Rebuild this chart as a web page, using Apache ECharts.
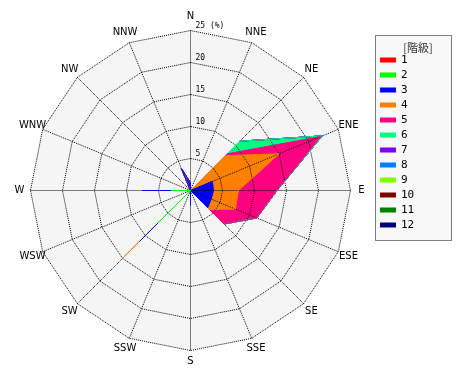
<!DOCTYPE html>
<html><head><meta charset="utf-8">
<script src="https://cdn.jsdelivr.net/npm/echarts@6/dist/echarts.min.js"></script>
<style>html,body{margin:0;padding:0;background:#fff}#c{width:470px;height:380px}</style>
</head><body><div id="c"></div>
<script>
// Directions, clockwise from North
const directions = ['N','NNE','NE','ENE','E','ESE','SE','SSE','S','SSW','SW','WSW','W','WNW','NW','NNW'];
const classNames = ['1','2','3','4','5','6','7','8','9','10','11','12'];
const classColors = ['#ff0000','#00ff00','#0000ff','#ff8000','#ff0080','#00ff80','#8000ff','#0080ff','#80ff00','#800000','#008000','#000080'];
// Frequency (%) per class, by direction (same order as directions)
const class1  = [0,0,0,0,0,0,0,0,0,0,0,0,0,0,0,0];
const class2  = [0,0,0,0,0,0,0,0,0,0,7.2,0,3.0,0,0,0];
const class3  = [1.2,0,0,3.7,3.6,3.5,3.8,0,2.3,0,4.0,0,4.5,0,0,3.7];
const class4  = [0,0,7.7,11.3,3.9,4.1,0.4,0,0,0,3.5,0,0,0,0,0];
const class5  = [0,0,0.4,7.0,6.0,3.6,3.2,0,0,0,0,0,0,0,0,0];
const class6  = [0,0,2.8,0.3,0,0,0,0,0,0,0,0,0,0,0,0];
const class7  = [0,0,0,0,0,0,0,0,0,0,0,0,0,0,0,0];
const class8  = [0,0,0,0,0,0,0,0,0,0,0,0,0,0,0,0];
const class9  = [0,0,0,0,0,0,0,0,0,0,0,0,0,0,0,0];
const class10 = [0,0,0,0,0,0,0,0,0,0,0,0,0,0,0,0];
const class11 = [0,0,0,0,0,0,0,0,0,0,0,0,0,0,0,0];
const class12 = [0,0,0,0,0,0,0,0,0,0,0,0,0,0,0,0];
const radiusMax = 25;
const unitLabel = '(%)';
const legendTitle = '[階級]';

const classes = [class1,class2,class3,class4,class5,class6,class7,class8,class9,class10,class11,class12];
// cumulative (stacked) values
const cumulative = [];
classes.forEach((arr, k) => {
  cumulative.push(arr.map((v, d) => v + (k > 0 ? cumulative[k-1][d] : 0)));
});
// radar goes counter-clockwise: reorder N, NNW, NW, ...
const order = [0].concat(directions.slice(1).map((_, i) => directions.length - 1 - i));
const reorder = arr => order.map(i => arr[i]);

const dotted = {color:'#000', width:1, type:'dotted'};
const indicatorBase = order.map(i => ({name: directions[i], max: radiusMax, min: 0}));
const indicatorTop = indicatorBase.map((ind, j) => j === 0 ? Object.assign({}, ind, {
  axisLabel: {show: true, fontSize: 8, fontFamily: 'DejaVu Sans Mono', color: '#000', margin: 2,
    align: 'left', verticalAlign: 'bottom', padding: [0,0,1,7],
    formatter: v => v === 0 ? '' : (v === radiusMax ? v + ' ' + unitLabel : String(v))}
}) : ind);

const series = [];
// filled areas (below grid), outer classes first so inner classes sit on top
for (let k = classes.length - 1; k >= 0; k--) {
  series.push({
    type: 'radar', radarIndex: 0, name: classNames[k], symbol: 'none', silent: true, z: 2,
    itemStyle: {color: classColors[k]},
    lineStyle: {width: 0, opacity: 0},
    areaStyle: {color: classColors[k], opacity: 1},
    data: [{value: reorder(cumulative[k]), name: classNames[k]}]
  });
}
// outlines (above grid)
for (let k = classes.length - 1; k >= 0; k--) {
  series.push({
    type: 'radar', radarIndex: 0, name: classNames[k], symbol: 'none', silent: true, z: 20,
    itemStyle: {color: classColors[k]},
    lineStyle: {color: classColors[k], width: 1},
    data: [{value: reorder(cumulative[k]), name: classNames[k]}]
  });
}

const chart = echarts.init(document.getElementById('c'));
chart.setOption({
  animation: false,
  backgroundColor: '#fff',
  title: {text: legendTitle, left: 413, top: 37, textAlign: 'center',
    textStyle: {fontSize: 11, fontWeight: 'normal', color: '#333', fontFamily: 'Noto Sans CJK JP'}},
  graphic: [{type: 'rect', left: 375, top: 35, z: -1,
    shape: {width: 76, height: 205}, style: {fill: '#f8f8f8', stroke: '#000', lineWidth: 1, lineDash: [1,1]}}],
  legend: {
    orient: 'vertical', left: 380, top: 54, padding: 0, itemGap: 3,
    itemWidth: 16, itemHeight: 5, icon: 'rect',
    data: classNames,
    textStyle: {fontSize: 11, lineHeight: 12, color: '#000', fontFamily: 'DejaVu Sans Mono'}
  },
  // radial direction lines (dotted)
  polar: {center: [190.5,190.5], radius: [0,160], z: 10},
  angleAxis: {type: 'category', data: directions, boundaryGap: false, startAngle: 90, clockwise: true, z: 10,
    axisLine: {show: false}, axisTick: {show: false}, axisLabel: {show: false},
    splitLine: {show: true, lineStyle: dotted}},
  radiusAxis: {min: 0, max: radiusMax, show: false},
  radar: [
    {center: [190.5,190.5], radius: 160, shape: 'polygon', splitNumber: 5, z: 0,
     indicator: indicatorBase,
     axisName: {show: false},
     splitArea: {show: true, areaStyle: {color: ['#f5f5f5']}},
     splitLine: {show: false}, axisLine: {show: false}, axisLabel: {show: false}},
    {center: [190.5,190.5], radius: 160, shape: 'polygon', splitNumber: 5, z: 10, nameGap: 11,
     indicator: indicatorTop,
     axisName: {show: true, color: '#000', fontSize: 10, fontFamily: 'DejaVu Sans', align: 'center', verticalAlign: 'middle', padding: [6,0,0,0]},
     splitArea: {show: false},
     splitLine: {show: true, lineStyle: dotted},
     axisLine: {show: false},
     axisLabel: {show: false}}
  ],
  series: series
});
</script></body></html>
